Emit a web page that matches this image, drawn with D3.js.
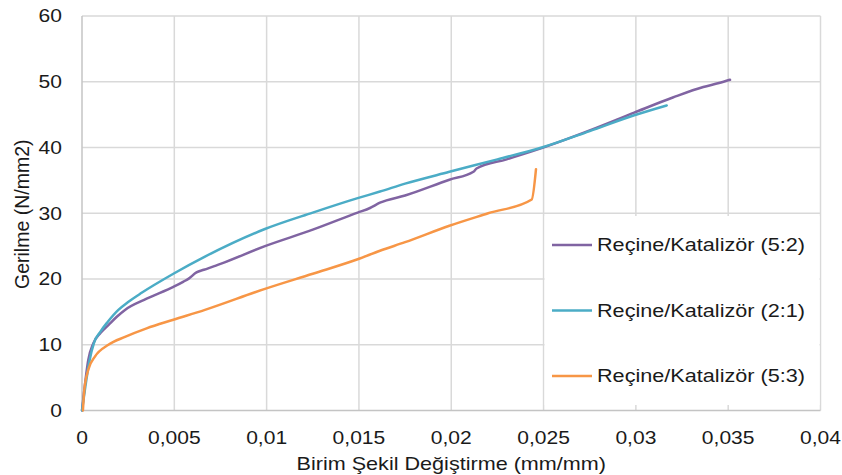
<!DOCTYPE html>
<html>
<head>
<meta charset="utf-8">
<script src="https://cdn.jsdelivr.net/npm/d3@7"></script>
<style>
  html, body { margin: 0; padding: 0; background: #fff; }
  svg text { font-family: "Liberation Sans", Arial, sans-serif; fill: #1a1a1a; }
</style>
</head>
<body>
<svg width="842" height="475"></svg>
<script>
// strain (mm/mm) and stress (N/mm2)
const STRAIN_52 = [0, 0.0001, 0.00034, 0.00061, 0.001, 0.00143, 0.0019, 0.00233, 0.0035, 0.00495, 0.0055, 0.0058, 0.0062, 0.0066, 0.0075, 0.00991, 0.0125, 0.01493, 0.0156, 0.01614, 0.0175, 0.0199, 0.0212, 0.02137, 0.023, 0.0249, 0.0275, 0.02991, 0.032, 0.03365, 0.0345, 0.0351];
const STRESS_52 = [0, 2.5, 7.7, 10.2, 11.8, 13.0, 14.3, 15.3, 17.0, 18.8, 19.6, 20.1, 21.0, 21.4, 22.3, 25.0, 27.5, 30.1, 30.8, 31.6, 32.7, 35.1, 36.3, 36.8, 38.2, 39.9, 42.6, 45.3, 47.6, 49.2, 49.8, 50.3];

const STRAIN_21 = [0, 0.0002, 0.0004, 0.00065, 0.001, 0.0014, 0.00197, 0.0025, 0.00323, 0.00495, 0.00666, 0.00991, 0.0125, 0.01493, 0.01614, 0.0175, 0.0199, 0.0225, 0.0249, 0.0275, 0.02991, 0.03167];
const STRESS_21 = [0, 4, 7.5, 10.3, 12.0, 13.5, 15.3, 16.5, 17.9, 20.8, 23.4, 27.6, 30.1, 32.3, 33.3, 34.5, 36.3, 38.2, 40.0, 42.5, 44.9, 46.4];

const STRAIN_53 = [0.00005, 0.00012, 0.00034, 0.0007, 0.00143, 0.00233, 0.0035, 0.00495, 0.00666, 0.00991, 0.0125, 0.01493, 0.01614, 0.0175, 0.0199, 0.022, 0.02436, 0.02459];
const STRESS_53 = [0, 3, 6.2, 8.2, 10.0, 11.2, 12.5, 13.8, 15.3, 18.5, 20.8, 23.0, 24.3, 25.6, 28.1, 30.0, 32.1, 36.7];

const SERIES_NAMES = ['Reçine/Katalizör (5:2)', 'Reçine/Katalizör (2:1)', 'Reçine/Katalizör (5:3)'];
const SERIES_COLORS = ['#8064a2', '#4bacc6', '#f79646'];
const X_TICKS = [0, 0.005, 0.01, 0.015, 0.02, 0.025, 0.03, 0.035, 0.04];
const Y_TICKS = [0, 10, 20, 30, 40, 50, 60];

const series = [
  { name: SERIES_NAMES[0], color: SERIES_COLORS[0], pts: STRAIN_52.map((x, i) => [x, STRESS_52[i]]) },
  { name: SERIES_NAMES[1], color: SERIES_COLORS[1], pts: STRAIN_21.map((x, i) => [x, STRESS_21[i]]) },
  { name: SERIES_NAMES[2], color: SERIES_COLORS[2], pts: STRAIN_53.map((x, i) => [x, STRESS_53[i]]) },
];

const margin = { top: 16, right: 21.5, bottom: 64.5, left: 82 };
const W = 842, H = 475;
const svg = d3.select('svg');

const x = d3.scaleLinear().domain([0, 0.04]).range([margin.left, W - margin.right]);
const y = d3.scaleLinear().domain([0, 60]).range([H - margin.bottom, margin.top]);
const fmt = v => String(v).replace('.', ',');
const SX = 1.17; // text in the picture is a bit wide

// grid
svg.append('g')
  .selectAll('line')
  .data(Y_TICKS.slice(1))
  .join('line')
  .attr('x1', margin.left).attr('x2', W - margin.right)
  .attr('y1', d => y(d)).attr('y2', d => y(d))
  .attr('stroke', '#d9d9d9').attr('stroke-width', 1.5);
svg.append('g')
  .selectAll('line')
  .data(X_TICKS.slice(1))
  .join('line')
  .attr('x1', d => x(d)).attr('x2', d => x(d))
  .attr('y1', margin.top).attr('y2', H - margin.bottom)
  .attr('stroke', '#d9d9d9').attr('stroke-width', 1.5);

// axis lines
svg.append('line')
  .attr('x1', x(0)).attr('x2', x(0)).attr('y1', margin.top).attr('y2', y(0))
  .attr('stroke', '#c4c4c4').attr('stroke-width', 1.5);
svg.append('line')
  .attr('x1', x(0)).attr('x2', x(0.04)).attr('y1', y(0)).attr('y2', y(0))
  .attr('stroke', '#c4c4c4').attr('stroke-width', 1.5);

// tick labels
svg.append('g')
  .selectAll('text')
  .data(X_TICKS)
  .join('text')
  .attr('transform', d => `translate(${x(d)},${y(0) + 33}) scale(${SX},1)`)
  .attr('text-anchor', 'middle')
  .style('font-size', '18px')
  .text(fmt);
svg.append('g')
  .selectAll('text')
  .data(Y_TICKS)
  .join('text')
  .attr('transform', d => `translate(${margin.left - 20},${y(d)}) scale(${SX},1)`)
  .attr('text-anchor', 'end')
  .attr('dy', '0.35em')
  .style('font-size', '18px')
  .text(d => d);

// axis titles
svg.append('text')
  .attr('transform', `translate(${(x(0) + x(0.04)) / 2},${H - 5}) scale(1.2,1)`)
  .attr('text-anchor', 'middle')
  .style('font-size', '18px')
  .text('Birim Şekil Değiştirme (mm/mm)');
svg.append('text')
  .attr('transform', `translate(29,${y(30) + 1}) rotate(-90)`)
  .attr('text-anchor', 'middle')
  .style('font-size', '19.5px')
  .text('Gerilme (N/mm2)');

// curves
const line = d3.line()
  .x(d => x(d[0]))
  .y(d => y(d[1]))
  .curve(d3.curveMonotoneX);

svg.append('g')
  .selectAll('path')
  .data(series)
  .join('path')
  .attr('d', d => line(d.pts))
  .attr('fill', 'none')
  .attr('stroke', d => d.color)
  .attr('stroke-width', 2.5)
  .attr('stroke-linejoin', 'round')
  .attr('stroke-linecap', 'round');

// legend
const lg = svg.append('g');
lg.append('rect')
  .attr('x', x(0.025) + 1).attr('y', 216)
  .attr('width', x(0.04) - x(0.025) - 2).attr('height', 189)
  .attr('fill', '#fff');
const item = lg.selectAll('g')
  .data(series)
  .join('g')
  .attr('transform', (d, i) => `translate(552,${245 + i * 65.5})`);
item.append('line')
  .attr('x1', 0).attr('x2', 40)
  .attr('stroke', d => d.color).attr('stroke-width', 2.5);
item.append('text')
  .attr('transform', `translate(45,0) scale(${SX},1)`)
  .attr('dy', '0.35em')
  .style('font-size', '18.5px')
  .text(d => d.name);
</script>
</body>
</html>
